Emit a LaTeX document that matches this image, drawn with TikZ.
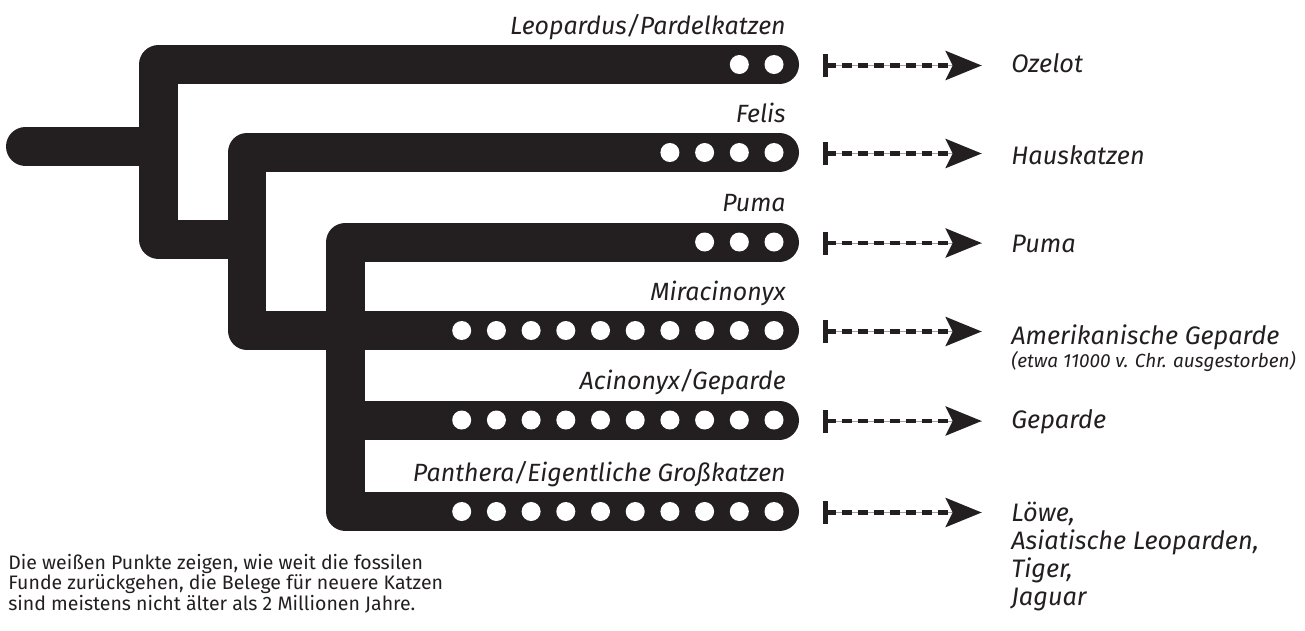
\documentclass[tikz,border=0pt]{standalone}
\usepackage{fontspec}
\setmainfont{Fira Sans}
\usetikzlibrary{arrows.meta}
\definecolor{inkblack}{HTML}{231F20}
\tikzset{
  branch/.style={line width=0.78cm,draw=inkblack,line cap=round,line join=round},
  genus/.style={anchor=base east,inner sep=0pt,font=\fontsize{14.2}{16}\selectfont\itshape,text=inkblack},
  species/.style={anchor=base west,inner sep=0pt,align=left,font=\fontsize{14.4}{15.9}\selectfont\itshape,text=inkblack},
  smallnote/.style={anchor=base west,inner sep=0pt,font=\fontsize{10.8}{12}\selectfont\itshape,text=inkblack},
  legend/.style={anchor=base west,inner sep=0pt,align=left,font=\fontsize{11.1}{11.4}\selectfont,text=inkblack},
  descent/.style={{Bar[width=0.46cm]}-{Stealth[length=0.72cm,width=0.58cm,inset=0.14cm]},line width=0.09cm,dash pattern=on 0.2cm off 0.12cm,draw=inkblack,fill=inkblack},
  guide/.style={line width=0.02cm,draw=gray!60}
}
\begin{document}
\begin{tikzpicture}[x=0.02cm,y=-0.02cm]
  \useasboundingbox (0,0) rectangle (1305,630);
  % stammbaum
  \draw[branch] (25.5,146.5) -- (150,146.5);
  \draw[branch] (779.5,64.5) -- (158.5,64.5) -- (158.5,239.5) -- (240,239.5);
  \draw[branch] (779.5,152.5) -- (247,152.5) -- (247,330.5) -- (779.5,330.5);
  \draw[branch] (779.5,242) -- (345.5,242) -- (345.5,511.5) -- (779.5,511.5);
  \draw[branch] (352,420) -- (779.5,420);
  % fossile Punkte
  \foreach \y/\n in {64.5/2,152.5/4,242/3,330.5/10,420/10,511.5/10}{
    \foreach \k in {1,...,\n}{\fill[white] ({774-(\k-1)*34.7},\y) circle[radius=0.19cm];}
  }
  % Gattungen
  \node[genus] (leopardus) at (786,34) {Leopardus/Pardelkatzen};
  \node[genus] (felis) at (786,122) {Felis};
  \node[genus] (pumagen) at (786,211.5) {Puma};
  \node[genus] (miracinonyx) at (786,300) {Miracinonyx};
  \node[genus] (acinonyx) at (786,389.5) {Acinonyx/Geparde};
  \node[genus] (panthera) at (786,481) {Panthera/Eigentliche Großkatzen};
  % Pfeile zu heutigen Arten
  \foreach \y [count=\r] in {64.5,152.5,242,330.5,420,511.5}{
    \coordinate (tail\r) at (823,\y+1);
    \coordinate (head\r) at (981.7,\y+1);
    \draw[guide] (tail\r) -- (head\r);
    \draw[descent] (tail\r) -- (head\r);
  }
  \node[species] (ozelot) at (1011,72.3) {Ozelot};
  \node[species] (hauskatzen) at (1011,164) {Hauskatzen};
  \node[species] (puma) at (1011,252) {Puma};
  \node[species] (amgeparde) at (1011,344) {Amerikanische Geparde};
  \node[smallnote] (ausgestorben) at (1011,367) {(etwa 11000 v. Chr. ausgestorben)};
  \node[species] (geparde) at (1011,428) {Geparde};
  \node[species] (grosskatzen) at (1011,605) {Löwe,\\Asiatische Leoparden,\\Tiger,\\Jaguar};
  \node[legend] (hinweis) at (8,610) {Die weißen Punkte zeigen, wie weit die fossilen\\Funde zurückgehen, die Belege für neuere Katzen\\sind meistens nicht älter als 2 Millionen Jahre.};
\end{tikzpicture}
\end{document}
